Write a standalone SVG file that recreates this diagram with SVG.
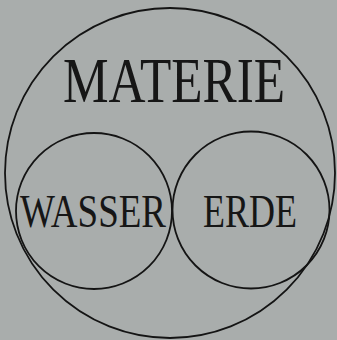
<svg xmlns="http://www.w3.org/2000/svg" width="337" height="340" viewBox="0 0 337 340">
<style>
.c{fill:none;stroke:#141414;stroke-width:1.8}
.t{font-family:"Liberation Serif",serif;fill:#161616}
</style>
<rect width="337" height="340" fill="#a9adac"/>
<g id="materie"><circle class="c" cx="170" cy="173" r="165"/>
<text class="t" x="63" y="102" font-size="64" textLength="222" lengthAdjust="spacingAndGlyphs">MATERIE</text></g>
<g id="wasser"><circle class="c" cx="94" cy="211" r="78"/>
<text class="t" x="20" y="227" font-size="47" textLength="146" lengthAdjust="spacingAndGlyphs">WASSER</text></g>
<g id="erde"><circle class="c" cx="251" cy="210" r="78.5"/>
<text class="t" x="203" y="227" font-size="47" textLength="94" lengthAdjust="spacingAndGlyphs">ERDE</text></g>
<g id="connectors"/>
</svg>
